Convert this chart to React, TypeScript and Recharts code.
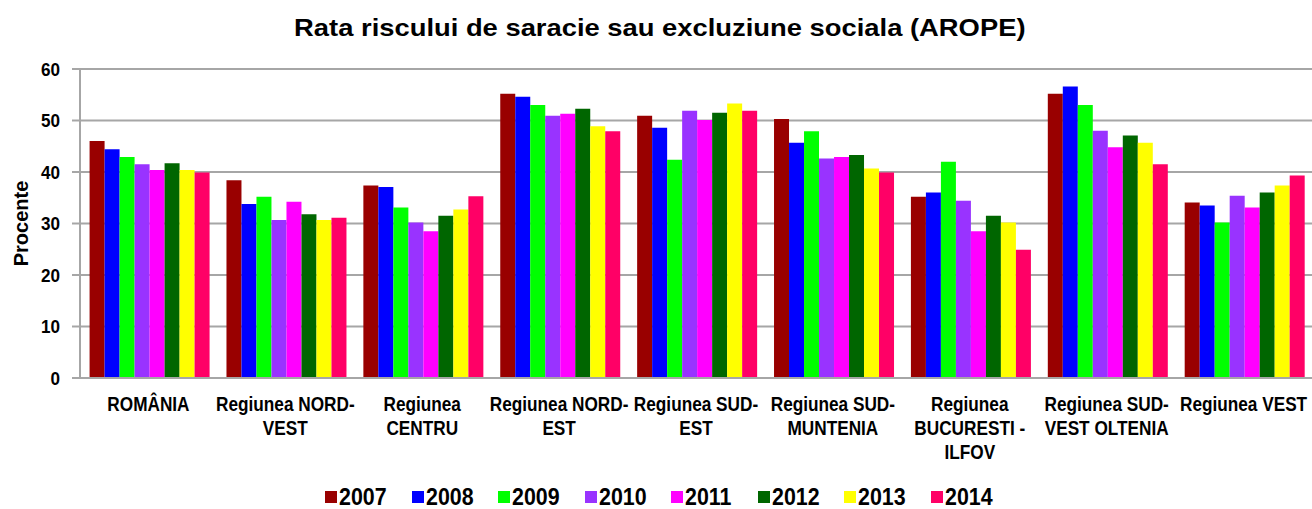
import React from 'react';
import { BarChart, Bar, XAxis, YAxis, CartesianGrid, Legend, Label } from 'recharts';

const categories = [
  'ROMÂNIA',
  'Regiunea NORD-VEST',
  'Regiunea CENTRU',
  'Regiunea NORD-EST',
  'Regiunea SUD-EST',
  'Regiunea SUD-MUNTENIA',
  'Regiunea BUCURESTI - ILFOV',
  'Regiunea SUD-VEST OLTENIA',
  'Regiunea VEST',
];

const categoryLines: string[][] = [
  ['ROMÂNIA'],
  ['Regiunea NORD-', 'VEST'],
  ['Regiunea', 'CENTRU'],
  ['Regiunea NORD-', 'EST'],
  ['Regiunea SUD-', 'EST'],
  ['Regiunea SUD-', 'MUNTENIA'],
  ['Regiunea', 'BUCURESTI -', 'ILFOV'],
  ['Regiunea SUD-', 'VEST OLTENIA'],
  ['Regiunea VEST'],
];

const years = ['2007', '2008', '2009', '2010', '2011', '2012', '2013', '2014'];

const v2007 = [46.0, 38.4, 37.4, 55.2, 50.9, 50.3, 35.2, 55.2, 34.1];
const v2008 = [44.4, 33.8, 37.1, 54.6, 48.6, 45.7, 36.0, 56.6, 33.5];
const v2009 = [42.9, 35.2, 33.1, 53.0, 42.4, 47.9, 42.0, 53.0, 30.2];
const v2010 = [41.5, 30.7, 30.2, 50.9, 51.9, 42.6, 34.4, 48.0, 35.4];
const v2011 = [40.4, 34.2, 28.5, 51.3, 50.1, 42.9, 28.5, 44.8, 33.1];
const v2012 = [41.7, 31.8, 31.5, 52.3, 51.5, 43.3, 31.5, 47.1, 36.0];
const v2013 = [40.4, 30.7, 32.7, 48.9, 53.3, 40.7, 30.2, 45.7, 37.4];
const v2014 = [39.9, 31.1, 35.3, 47.9, 51.9, 39.9, 24.9, 41.5, 39.3];

const yTicks = [0, 10, 20, 30, 40, 50, 60];

const colors = ['#990000', '#0000FF', '#00FF00', '#9933FF', '#FF00FF', '#006600', '#FFFF00', '#FF0066'];

const seriesValues = [v2007, v2008, v2009, v2010, v2011, v2012, v2013, v2014];

const data = categories.map((c, i) => {
  const row: Record<string, any> = { name: c, idx: i };
  years.forEach((y, k) => {
    row[y] = seriesValues[k][i];
  });
  return row;
});

const FONT = '"Liberation Sans", Arial, sans-serif';

const CatTick = (props: any) => {
  const { x, y, index } = props;
  const lines = categoryLines[index] || [];
  return (
    <g>
      {lines.map((ln, i) => (
        <text
          key={i}
          transform={`translate(${x},${y + 25 + i * 24}) scale(0.82,1)`}
          x={0}
          y={0}
          textAnchor="middle"
          fill="#000"
          fontFamily={FONT}
          fontWeight="bold"
          fontSize={21}
        >
          {ln}
        </text>
      ))}
    </g>
  );
};

const YTick = (props: any) => {
  const { x, y, payload } = props;
  return (
    <text
      transform={`translate(${x},${y}) scale(0.9,1)`}
      x={0}
      y={0}
      dy="0.355em"
      textAnchor="end"
      fill="#000"
      fontFamily={FONT}
      fontWeight="bold"
      fontSize={19}
    >
      {payload.value}
    </text>
  );
};

const LegendContent = () => (
  <div style={{ display: 'flex', justifyContent: 'center', alignItems: 'center', paddingLeft: 30 }}>
    {years.map((y, k) => (
      <div key={y} style={{ display: 'flex', alignItems: 'center', width: 86.5 }}>
        <span style={{ display: 'inline-block', width: 12, height: 12, background: colors[k], marginRight: 2, flex: 'none' }} />
        <span
          style={{
            display: 'inline-block',
            fontFamily: FONT,
            fontWeight: 'bold',
            fontSize: 23,
            color: '#000',
            lineHeight: '24px',
            transform: 'scaleX(0.93)',
            transformOrigin: 'left center',
          }}
        >
          {y}
        </span>
      </div>
    ))}
  </div>
);

const YLabel = (props: any) => {
  const vb = props.viewBox || {};
  const cy = (vb.y || 0) + (vb.height || 0) / 2;
  return (
    <text
      x={28}
      y={cy}
      transform={`rotate(-90, 28, ${cy})`}
      textAnchor="middle"
      fontFamily={FONT}
      fontWeight="bold"
      fontSize={20}
      fill="#000"
    >
      Procente
    </text>
  );
};

export default function App() {
  return (
    <div style={{ position: 'absolute', left: 0, top: 0, width: 1312, height: 509, background: '#fff' }}>
      <div
        style={{
          position: 'absolute',
          left: 0,
          top: 16,
          width: 1312,
          textAlign: 'center',
          fontFamily: FONT,
          fontWeight: 'bold',
          fontSize: 24,
          lineHeight: '24px',
          color: '#000',
          zIndex: 2,
        }}
      >
        <span style={{ display: 'inline-block', transform: 'scaleX(1.14)', transformOrigin: 'center', marginLeft: 8 }}>
          Rata riscului de saracie sau excluziune sociala (AROPE)
        </span>
      </div>
      <BarChart
        width={1312}
        height={509}
        data={data}
        margin={{ top: 69, right: 0, left: 0, bottom: 0 }}
        barCategoryGap="7%"
        barGap={0}
      >
        <CartesianGrid vertical={false} stroke="#a6a6a6" strokeWidth={2} />
        <XAxis
          dataKey="name"
          height={131}
          interval={0}
          tickLine={false}
          axisLine={{ stroke: '#a6a6a6', strokeWidth: 2 }}
          tick={<CatTick />}
        />
        <YAxis
          width={80}
          domain={[0, 60]}
          ticks={yTicks}
          interval={0}
          tickSize={8}
          tickMargin={12}
          tickLine={{ stroke: '#a6a6a6', strokeWidth: 2 }}
          axisLine={{ stroke: '#a6a6a6', strokeWidth: 2 }}
          tick={<YTick />}
        >
          <Label content={<YLabel />} />
        </YAxis>
        <Legend
          verticalAlign="middle"
          align="center"
          layout="horizontal"
          content={<LegendContent />}
          wrapperStyle={{ position: 'absolute', top: 485, left: 0, width: 1312, height: 26 }}
        />
        {years.map((y, k) => (
          <Bar key={y} dataKey={y} fill={colors[k]} isAnimationActive={false} />
        ))}
      </BarChart>
    </div>
  );
}
